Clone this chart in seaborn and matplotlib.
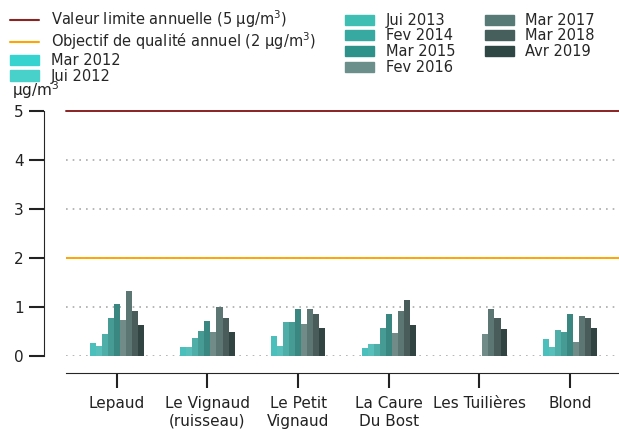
import numpy as np
import pandas as pd
import seaborn as sns
import matplotlib.pyplot as plt
from matplotlib.lines import Line2D
from matplotlib.patches import Patch

# sites and campaigns
sites = ["Lepaud", "Le Vignaud\n(ruisseau)", "Le Petit\nVignaud", "La Caure\nDu Bost",
         "Les Tuilières", "Blond"]
campaigns = ["Mar 2012", "Jui 2012", "Jui 2013", "Fev 2014", "Mar 2015",
             "Fev 2016", "Mar 2017", "Mar 2018", "Avr 2019"]
colors = ["#36d3cf", "#48d0cb", "#3fbeb4", "#38a9a1", "#2e928a",
          "#6b908c", "#587a76", "#465f5c", "#2f4744"]

# µg/m3, one list per site (None = no measure)
lepaud = [0.26, 0.21, 0.44, 0.77, 1.06, 0.74, 1.33, 0.92, 0.63]
vignaud = [0.18, 0.18, 0.36, 0.52, 0.72, 0.48, 1.01, 0.77, 0.48]
petit_vignaud = [0.40, 0.21, 0.69, 0.69, 0.96, 0.66, 0.96, 0.85, 0.58]
caure = [0.17, 0.24, 0.24, 0.58, 0.85, 0.47, 0.92, 1.15, 0.63]
tuilieres = [None, None, None, None, None, 0.44, 0.96, 0.78, 0.56]
blond = [0.35, 0.18, 0.53, 0.50, 0.85, 0.28, 0.82, 0.77, 0.58]

limite = 5
objectif = 2

rows = []
for site, vals in zip(sites, [lepaud, vignaud, petit_vignaud, caure, tuilieres, blond]):
    for camp, v in zip(campaigns, vals):
        if v is not None:
            rows.append({"site": site, "campagne": camp, "valeur": v})
df = pd.DataFrame(rows)

sns.set_style("ticks")
plt.rcParams["font.family"] = ["DejaVu Sans"]

fig = plt.figure(figsize=(6.19, 4.29), dpi=100)
ax = fig.add_axes([66 / 619, 73 / 429, 553 / 619, 245 / 429])

sns.barplot(data=df, x="site", y="valeur", hue="campagne", order=sites,
            hue_order=campaigns, palette=colors, width=0.6, linewidth=0,
            legend=False, ax=ax)

ax.axhline(limite, color="#8b2323", lw=1.4, zorder=3, clip_on=False)
ax.axhline(objectif, color="#ffa500", lw=1.4, zorder=3)

ax.set_ylim(0, 5)
ax.set_xlim(-0.56, 5.54)
ax.set_yticks(range(0, 6))
ax.yaxis.grid(True, linestyle=(0, (1, 3)), color="#aaaaaa", lw=1.2)
ax.set_axisbelow(True)

for s in ["top", "right"]:
    ax.spines[s].set_visible(False)
ax.spines["left"].set_position(("outward", 16))
ax.spines["bottom"].set_position(("outward", 12))
ax.spines["left"].set_bounds(0, 5)
ax.tick_params(axis="both", length=11, width=1.5, labelsize=11, colors="#222222")
ax.tick_params(axis="x", pad=6)
ax.set_xlabel("")
ax.set_ylabel("")
ax.text(-0.098, 1.06, "µg/m$^3$", transform=ax.transAxes, fontsize=11, color="#222222")

handles = [Line2D([], [], color="#8b2323", lw=1.5),
           Line2D([], [], color="#ffa500", lw=1.5)]
handles += [Patch(color=c) for c in colors]
labels = ["Valeur limite annuelle (5 µg/m$^3$)", "Objectif de qualité annuel (2 µg/m$^3$)"] + campaigns
fig.legend(handles, labels, ncol=3, loc="upper left", bbox_to_anchor=(0.0, 1.005),
           frameon=False, fontsize=10.5, labelspacing=0.05, columnspacing=2.0,
           handlelength=2.0, handletextpad=0.8, borderaxespad=0.3)

fig.savefig("out.png", dpi=100)
